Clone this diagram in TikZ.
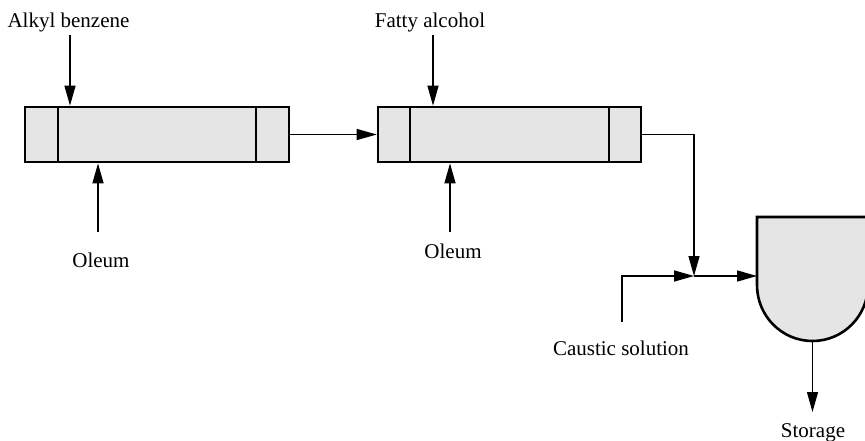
\documentclass[tikz,border=0pt]{standalone}
\usepackage{fontspec}
\setmainfont{Liberation Serif}
\usetikzlibrary{arrows.meta}
\begin{document}
\begin{tikzpicture}[x=1pt,y=-1pt,
  flow/.style={line width=1.3pt,-{Triangle[length=20pt,width=11pt]}},
  vessel/.style={draw,line width=2.6pt,fill=black!10},
  lbl/.style={font=\fontsize{21}{25}\selectfont,anchor=base,inner sep=0pt}]
\useasboundingbox (0,0) rectangle (865,440);
% reactors
\node[vessel,minimum width=264pt,minimum height=55pt,inner sep=0pt] (r1) at (157,134.5) {};
\draw[line width=2.6pt] (58,107) -- (58,162) (256,107) -- (256,162);
\node[vessel,minimum width=263pt,minimum height=55pt,inner sep=0pt] (r2) at (509.5,134.5) {};
\draw[line width=2.6pt] (410,107) -- (410,162) (609,107) -- (609,162);
% tank
\draw[vessel] (757,217) -- (868,217) -- (868,285)
  .. controls (868,316) and (843.2,341) .. (812.5,341)
  .. controls (781.8,341) and (757,316) .. (757,285) -- cycle;
\coordinate (tankin) at (757,276);
\coordinate (tankout) at (812.5,341);
% labels
\node[lbl] (alkyl) at (68.5,27) {Alkyl benzene};
\node[lbl] (ol1) at (101,267) {Oleum};
\node[lbl] (fatty) at (430,27) {Fatty alcohol};
\node[lbl] (ol2) at (453,258) {Oleum};
\node[lbl] (caustic) at (621,355) {Caustic solution};
\node[lbl] (storage) at (813,437) {Storage};
% coordinates
\coordinate (a1) at (70,35);
\coordinate (o1) at (98,232);
\coordinate (f1) at (433,35);
\coordinate (o2) at (450,232);
\coordinate (j) at (694,276);
\coordinate (c1) at (622,322);
\coordinate (s1) at (812.5,412);
% connectors
\draw[flow] (a1) -- (a1 |- r1.north);
\draw[flow] (o1) -- (o1 |- r1.south);
\draw[flow] (f1) -- (f1 |- r2.north);
\draw[flow] (o2) -- (o2 |- r2.south);
\draw[flow] (r1.east) -- (r2.west);
\draw[flow] (r2.east) -| (j);
\draw[flow] (c1) |- (j);
\draw[flow] (j) -- (tankin);
\draw[flow] (tankout) -- (s1);
\end{tikzpicture}
\end{document}
